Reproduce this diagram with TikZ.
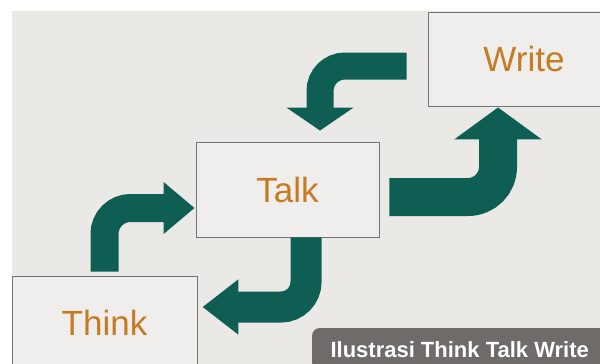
\documentclass[tikz,border=0pt]{standalone}
\usepackage{fontspec}
\setmainfont{Liberation Sans}
\usetikzlibrary{arrows.meta}

\definecolor{bggrey}{RGB}{235,233,230}
\definecolor{boxgrey}{RGB}{239,238,236}
\definecolor{arrowteal}{RGB}{14,94,84}
\definecolor{labelorange}{RGB}{198,122,34}
\definecolor{capgrey}{RGB}{110,107,104}

\begin{document}
\begin{tikzpicture}[x=1pt, y=-1pt,
    box/.style={rectangle, draw=black!55, line width=0.9pt, fill=boxgrey, text=labelorange, inner sep=0pt, font=\fontsize{35}{40}\selectfont},
    flow/.style={draw=arrowteal}]
    \useasboundingbox (0,0) rectangle (600,364);
    \fill[white] (0,0) rectangle (600,364);
    \fill[bggrey] (12,11) rectangle (600,364);
    \clip (0,0) rectangle (600,364);

    \node[box, minimum width=192, minimum height=94] (write) at (524,59) {Write};
    \node[box, minimum width=183, minimum height=95] (talk) at (287.5,189.5) {Talk};
    \node[box, minimum width=185, minimum height=94] (think) at (104.5,323) {Think};

    \draw[flow, line width=28pt, rounded corners=26pt, -{Triangle[length=31pt, width=50pt]}] ([yshift=4pt]think.north) |- ([xshift=-1pt, yshift=-18.5pt]talk.west);
    \draw[flow, line width=38pt, rounded corners=30pt, -{Triangle[length=32pt, width=86pt]}] ([xshift=10pt, yshift=-7.5pt]talk.east) -| ([xshift=-26pt, yshift=-1pt]write.south);
    \draw[flow, line width=27pt, rounded corners=25pt, -{Triangle[length=23pt, width=66pt]}] ([xshift=-21pt, yshift=-7pt]write.west) -| ([xshift=32.5pt, yshift=11pt]talk.north);
    \draw[flow, line width=31pt, rounded corners=25pt, -{Triangle[length=36pt, width=53pt]}] ([xshift=18.5pt]talk.south) |- ([xshift=5pt, yshift=16pt]think.east);

    \node[rectangle, fill=capgrey, text=white, rounded corners=7pt, anchor=north west, minimum width=295, minimum height=42, inner sep=0pt, font=\bfseries\fontsize{22}{26}\selectfont] (tag) at (312,328) {Ilustrasi Think Talk Write};
\end{tikzpicture}
\end{document}
